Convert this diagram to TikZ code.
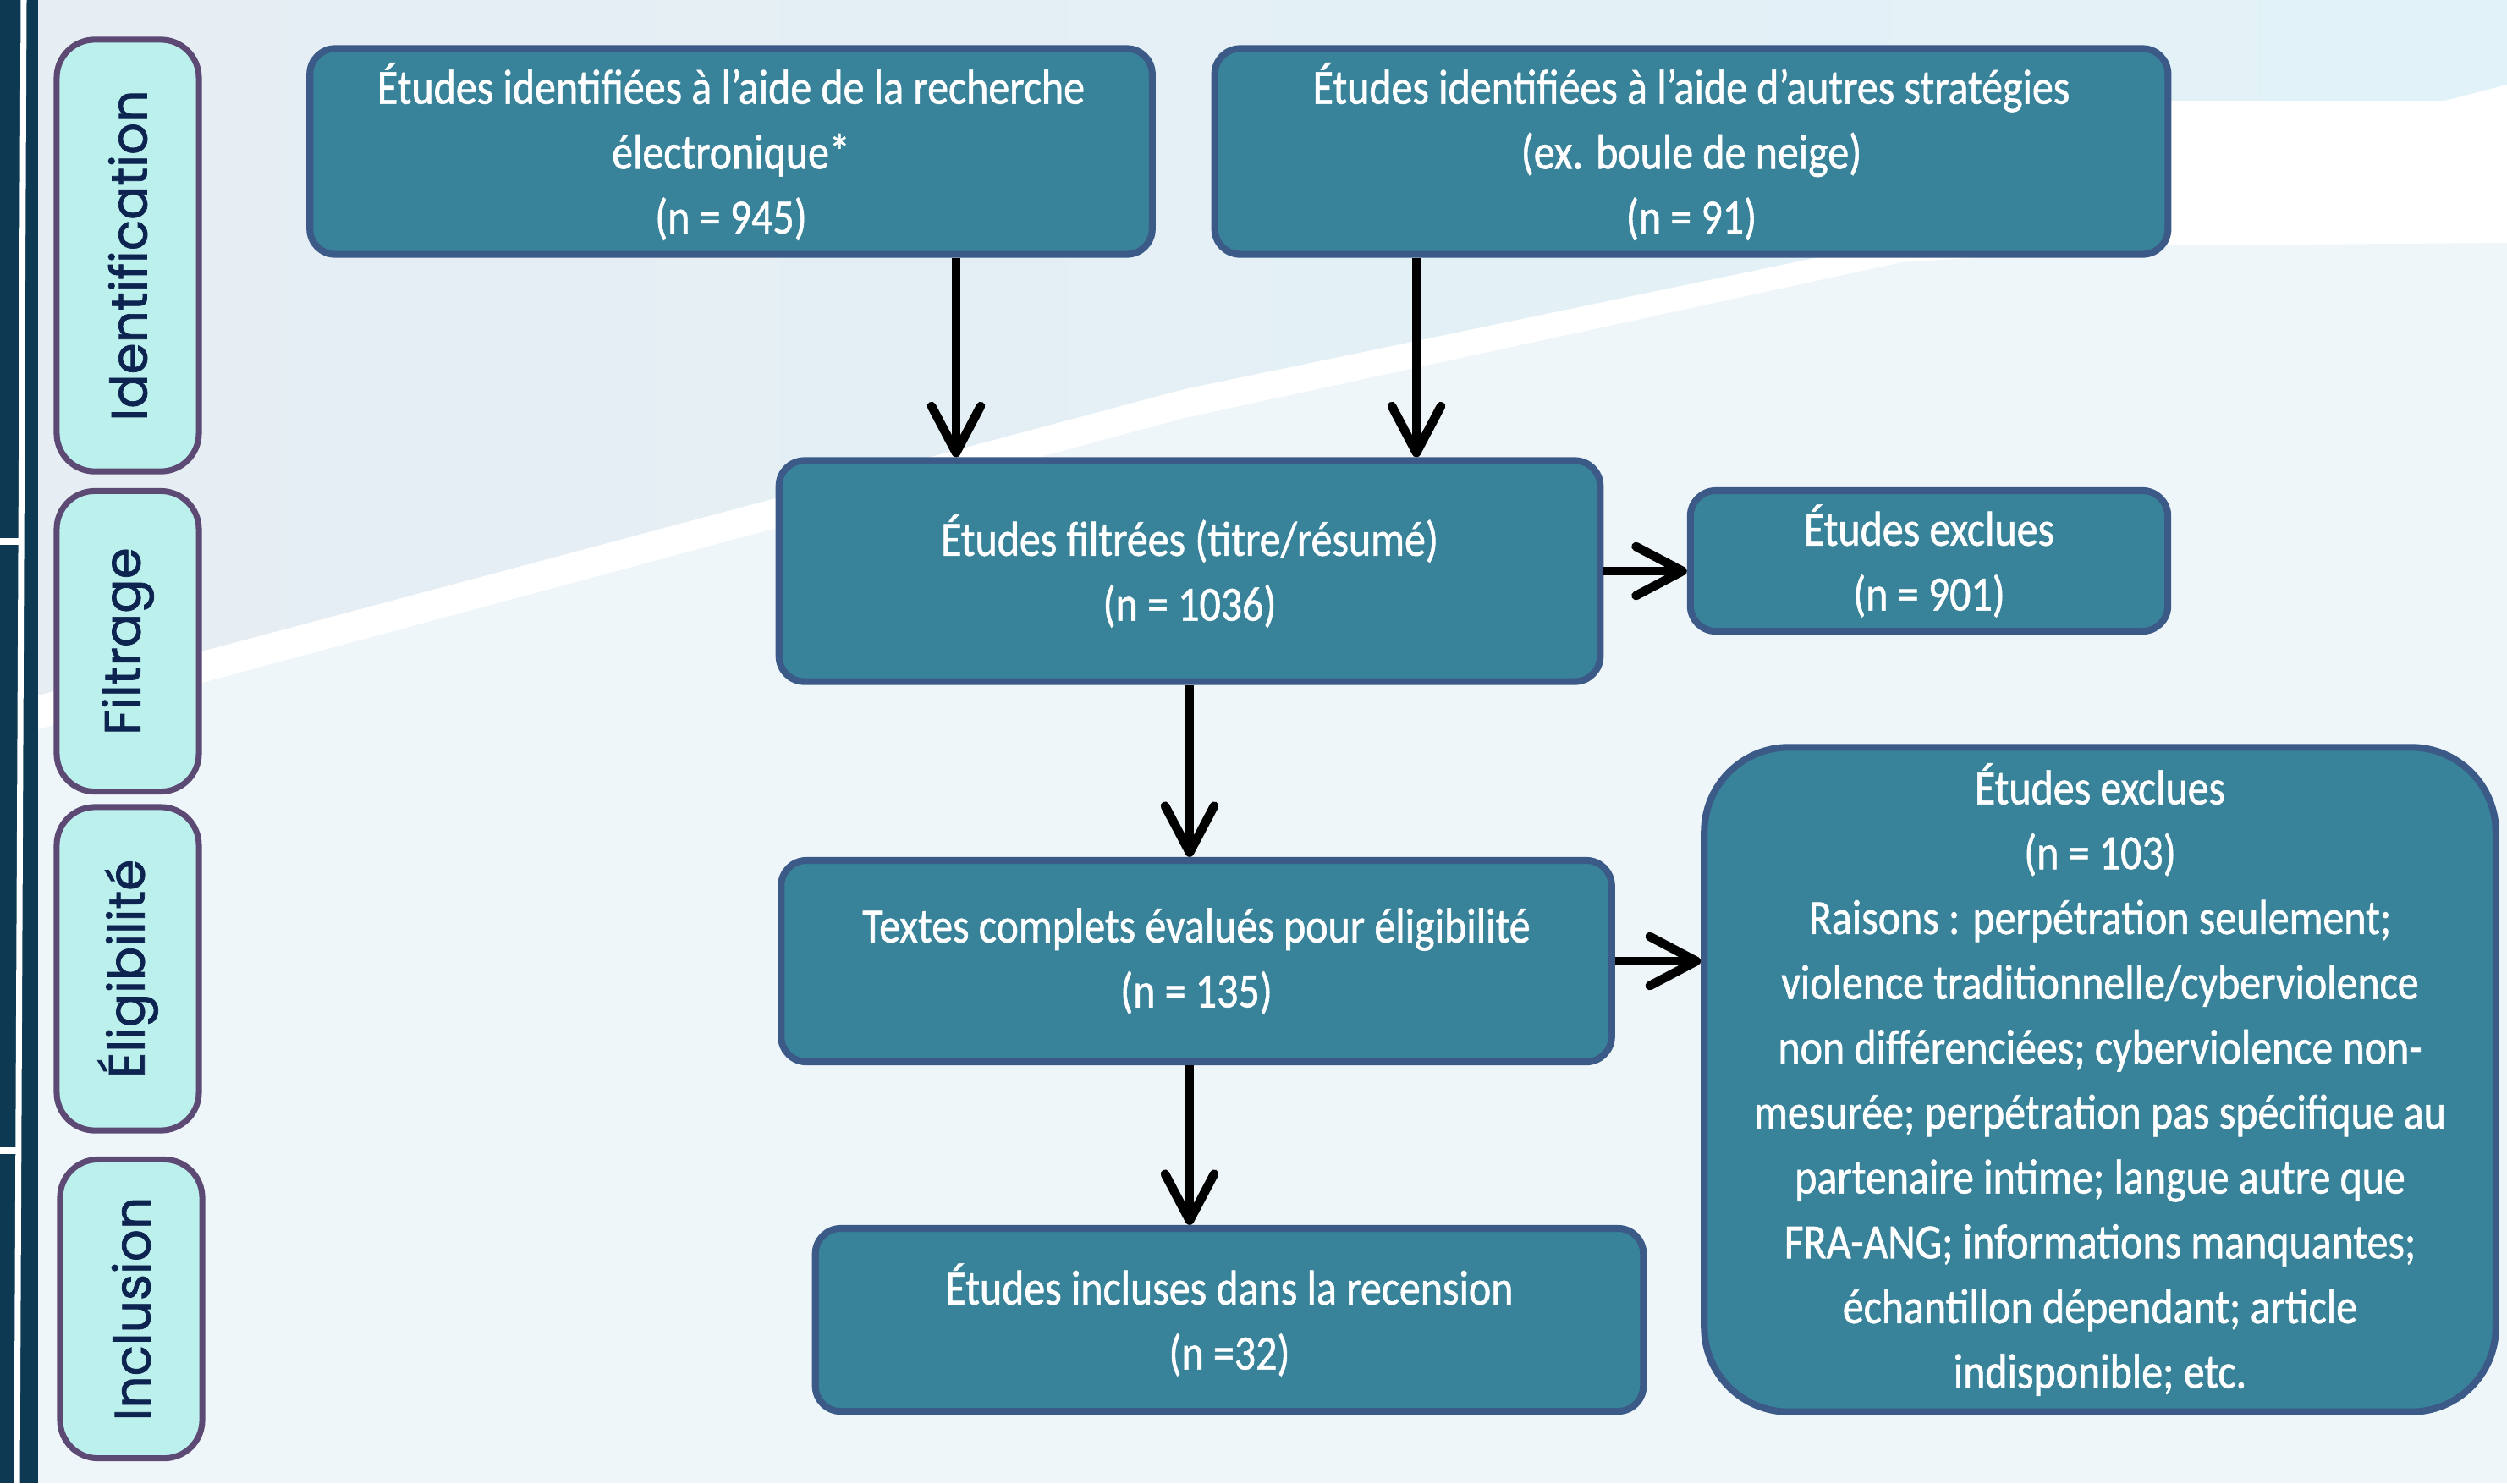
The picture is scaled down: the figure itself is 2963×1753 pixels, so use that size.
\documentclass[tikz,border=0pt]{standalone}
\usepackage{fontspec}
\setmainfont{Carlito}[FakeStretch=0.86, FakeBold=1]
\newfontfamily\stagefont{Poppins}[FakeBold=1.2]
\usetikzlibrary{arrows.meta}

\definecolor{boxfill}{HTML}{388399}
\definecolor{boxline}{HTML}{3C5A87}
\definecolor{stagefill}{HTML}{BCF0EC}
\definecolor{stageline}{HTML}{5C4A75}
\definecolor{stagetext}{HTML}{0D2350}
\definecolor{bglow}{HTML}{EFF6F9}
\definecolor{bgtopleft}{HTML}{E6EDF3}
\definecolor{bgtopright}{HTML}{E1F3F8}
\definecolor{sidebar}{HTML}{0D3A52}

\tikzset{
  box/.style={draw=boxline, line width=2.3pt, fill=boxfill, rounded corners=0.3cm,
    text=white, align=center, inner sep=0pt, font=\fontsize{16.5}{21.8}\selectfont},
  stage/.style={draw=stageline, line width=2pt, fill=stagefill, rounded corners=0.45cm,
    rotate=90, minimum height=1.68cm, inner sep=0pt, text=stagetext,
    font=\stagefont\fontsize{17}{20}\selectfont},
  arr/.style={line width=3pt, -{Straight Barb[length=0.55cm,width=0.58cm,round]}}
}

\begin{document}
\begin{tikzpicture}[x=0.01cm, y=-0.01cm]
    \useasboundingbox (0,0) rectangle (2963,1753);
    % background
    \fill[bglow] (0,0) rectangle (2963,1753);
    \shade[left color=bgtopleft, right color=bgtopright] (45,0) -- (2963,0) -- (2963,100) -- (2890,119) -- (2566,119)
      -- (2150,304) -- (1400,460) -- (246,768) -- (45,822) -- cycle;
    \fill[white] (2963,100) -- (2890,119) -- (2566,119) -- (2150,304) -- (1400,460) -- (246,768) -- (45,822)
      -- (45,862) -- (246,805) -- (1400,494) -- (2247,310) -- (2566,290) -- (2963,287) -- cycle;
    % left bar
    \fill[sidebar] (0,0) rectangle (45,1753);
    \draw[white, line width=2pt] (28,0) -- (20,1753);
    \fill[white] (0,636) rectangle (24,644);
    \fill[white] (0,1356) rectangle (20,1364);
    %
    \node[stage, minimum width=5.1cm] (stIdent) at (151,302) {Identification};
    \node[stage, minimum width=3.55cm] (stFilt) at (151,758) {Filtrage};
    \node[stage, minimum width=3.82cm] (stElig) at (151,1145) {Éligibilité};
    \node[stage, minimum width=3.53cm] (stIncl) at (155,1547) {Inclusion};
    %
    \node[box, minimum width=9.95cm, minimum height=2.43cm] (search) at (864,179)
      {Études identifiées à l’aide de la recherche\\électronique*\\(n = 945)};
    \node[box, minimum width=11.26cm, minimum height=2.43cm] (other) at (1999,179)
      {Études identifiées à l’aide d’autres stratégies\\(ex. boule de neige)\\(n = 91)};
    \node[box, minimum width=9.70cm, minimum height=2.61cm] (screen) at (1406,675)
      {Études filtrées (titre/résumé)\\(n = 1036)};
    \node[box, minimum width=5.64cm, minimum height=1.66cm] (exclA) at (2280,663)
      {Études exclues\\(n = 901)};
    \node[box, minimum width=9.81cm, minimum height=2.38cm] (fulltext) at (1414,1136)
      {Textes complets évalués pour éligibilité\\(n = 135)};
    \node[box, rounded corners=1cm, minimum width=9.35cm, minimum height=7.85cm] (exclB) at (2482,1276)
      {Études exclues\\(n = 103)\\Raisons : perpétration seulement;\\violence traditionnelle/cyberviolence\\non différenciées; cyberviolence non-\\mesurée; perpétration pas spécifique au\\partenaire intime; langue autre que\\FRA-ANG; informations manquantes;\\échantillon dépendant; article\\indisponible; etc.};
    \node[box, minimum width=9.78cm, minimum height=2.16cm] (included) at (1453,1560)
      {Études incluses dans la recension\\(n =32)};
    %
    \coordinate (leftin) at (1130,0);
    \coordinate (rightin) at (1674,0);
    \draw[arr] (search.south -| leftin) -- (screen.north -| leftin);
    \draw[arr] (other.south -| rightin) -- (screen.north -| rightin);
    \draw[arr] (screen.south) -- (fulltext.north -| screen.south);
    \draw[arr] (fulltext.south -| screen.south) -- (included.north -| screen.south);
    \draw[arr] (screen.east) -- (exclA.west |- screen.east);
    \draw[arr] (fulltext.east) -- (exclB.west |- fulltext.east);
\end{tikzpicture}
\end{document}
